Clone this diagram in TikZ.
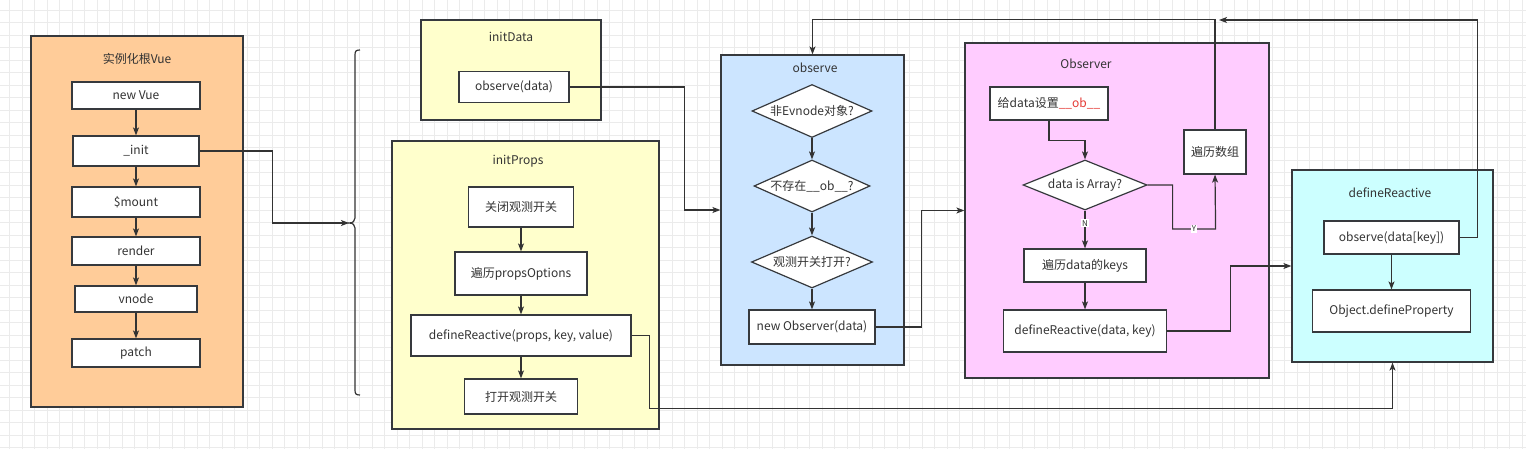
\documentclass[tikz,border=0pt]{standalone}
\usepackage{fontspec}
\setmainfont{Noto Sans CJK SC}
\usetikzlibrary{arrows.meta}
\usetikzlibrary{shapes}
\definecolor{lineGray}{HTML}{333333}
\definecolor{boxGray}{HTML}{36393D}
\definecolor{textGray}{HTML}{333333}
\definecolor{gridGray}{HTML}{EBEBEB}
\definecolor{vueOrange}{HTML}{FFCC99}
\definecolor{initYellow}{HTML}{FFFFCC}
\definecolor{observeBlue}{HTML}{CCE5FF}
\definecolor{observerPink}{HTML}{FFCCFF}
\definecolor{reactCyan}{HTML}{CCFFFF}
\definecolor{obRed}{HTML}{E53935}
\begin{document}
\begin{tikzpicture}
[x=1pt,y=-1pt,%
  lineDecorate/.style={draw=lineGray,line width=1.2pt,-{Stealth[length=8pt,width=6pt,inset=2pt]}},%
  wireDecorate/.style={draw=lineGray,line width=1.2pt},%
  groupDecorate/.style={shape=rectangle,draw=boxGray,line width=1.2pt,inner sep=0pt},%
  boxDecorate/.style={shape=rectangle,draw=boxGray,fill=white,line width=1.2pt,inner sep=2pt,text=textGray},%
  decisionDecorate/.style={shape=diamond,draw=boxGray,fill=white,line width=1.2pt,inner sep=0pt,aspect=2.3,text=textGray},%
  titleDecorate/.style={text=textGray},%
  edgeLabel/.style={fill=white,inner sep=1pt,text=textGray,font=\fontsize{8}{9}\selectfont}]
\fontsize{12}{14}\selectfont
%% canvas and grid
\path[use as bounding box] (0,0) rectangle (1526,449);
\fill[white] (0,0) rectangle (1526,449);
\begin{scope}
\clip (0,0) rectangle (1526,449);
\draw[gridGray,line width=0.8pt,shift={(9.5,10)}] (-12.5,-12.5) grid[step=12.5pt] (1530,450);
\end{scope}
%% groups
\node[groupDecorate,fill=vueOrange,minimum width=212pt,minimum height=371pt] (vueGroup) at (137,221.5) {};
\node[groupDecorate,fill=initYellow,minimum width=180pt,minimum height=100pt] (dataGroup) at (511,70) {};
\node[groupDecorate,fill=initYellow,minimum width=267pt,minimum height=288pt] (propsGroup) at (525.5,285) {};
\node[groupDecorate,fill=observeBlue,minimum width=183pt,minimum height=310pt] (observeGroup) at (812.5,210) {};
\node[groupDecorate,fill=observerPink,minimum width=304pt,minimum height=335pt] (observerGroup) at (1117,210.5) {};
\node[groupDecorate,fill=reactCyan,minimum width=201pt,minimum height=192pt] (reactGroup) at (1392.5,266) {};
%% group titles
\node[titleDecorate] (vueTitle) at (137,59) {实例化根Vue};
\node[titleDecorate] (dataTitle) at (511,37) {initData};
\node[titleDecorate] (propsTitle) at (518,161) {initProps};
\node[titleDecorate] (observeTitle) at (815,68) {observe};
\node[titleDecorate] (observerTitle) at (1086,64) {Observer};
\node[titleDecorate] (reactTitle) at (1390,193) {defineReactive};
%% root Vue steps
\foreach \nodename/\y/\w/\h/\txt in {
  newVue/95.5/128/27/new Vue, init/151/126/30/\_init,
  mount/202/128/30/\$mount, render/251/128/28/render,
  vnode/299/122/26/vnode, patch/353/128/28/patch}
{
  \node[boxDecorate,minimum width=\w pt,minimum height=\h pt] (\nodename) at (136,\y) {\txt};
}
\foreach \a/\b in {newVue/init, init/mount, mount/render, render/vnode, vnode/patch}
  \draw[lineDecorate] (\a) -- (\b);
%% brace
\coordinate (braceTip) at (349,223);
\draw[wireDecorate] (360,50) .. controls (356,50) and (355,51) .. (355,55) -- (355,218)
  .. controls (355,221) and (353,223) .. (braceTip)
  .. controls (353,223) and (355,225) .. (355,228) -- (355,390)
  .. controls (355,394) and (356,395) .. (360,395);
\draw[lineDecorate] (init.east) -- ++(73,0) |- (braceTip);
%% initData and initProps
\node[boxDecorate,minimum width=110pt,minimum height=31pt] (observeData) at (514,87) {observe(data)};
\node[boxDecorate,minimum width=105pt,minimum height=40pt] (closeSwitch) at (521,207) {关闭观测开关};
\node[boxDecorate,minimum width=132pt,minimum height=43pt] (loopProps) at (521,273.5) {遍历propsOptions};
\node[boxDecorate,minimum width=220pt,minimum height=41pt] (defineProps) at (521,335.5) {defineReactive(props, key, value)};
\node[boxDecorate,minimum width=113pt,minimum height=35pt] (openSwitch) at (521,396.5) {打开观测开关};
\foreach \a/\b in {closeSwitch/loopProps, loopProps/defineProps, defineProps/openSwitch}
  \draw[lineDecorate] (\a) -- (\b);
%% observe
\node[decisionDecorate,minimum width=120pt,minimum height=53pt] (isVnode) at (812,111) {非Evnode对象?};
\node[decisionDecorate,minimum width=116pt,minimum height=52pt] (hasOb) at (812,186) {不存在\_\_ob\_\_?};
\node[decisionDecorate,minimum width=121pt,minimum height=52pt] (switchOn) at (812,262) {观测开关打开?};
\node[boxDecorate,minimum width=126pt,minimum height=34pt] (newObserver) at (812,327) {new Observer(data)};
\foreach \a/\b in {isVnode/hasOb, hasOb/switchOn, switchOn/newObserver}
  \draw[lineDecorate] (\a) -- (\b);
%% Observer
\node[boxDecorate,minimum width=118pt,minimum height=33pt] (setOb) at (1049,103.5) {给data设置\textcolor{obRed}{\_\_ob\_\_}};
\node[decisionDecorate,minimum width=124pt,minimum height=50pt] (isArray) at (1085,185) {data is Array?};
\node[boxDecorate,minimum width=62pt,minimum height=44pt] (loopArray) at (1215,152) {遍历数组};
\node[boxDecorate,minimum width=122pt,minimum height=33pt] (loopKeys) at (1085,265.5) {遍历data的keys};
\node[boxDecorate,minimum width=163pt,minimum height=42pt] (defineData) at (1085,331) {defineReactive(data, key)};
\draw[lineDecorate] (setOb.south) -- ++(0,20) -| (isArray.north);
\draw[lineDecorate] (isArray.south) -- node[edgeLabel,pos=0.33] {N} (loopKeys.north);
\draw[lineDecorate] (isArray.east) -- ++(25,0) -- ++(0,44) -- node[edgeLabel] {Y} ++(43,0) -- (loopArray.south);
\draw[lineDecorate] (loopKeys) -- (defineData);
%% defineReactive
\node[boxDecorate,minimum width=135pt,minimum height=33pt] (observeKey) at (1391.5,237.5) {observe(data[key])};
\node[boxDecorate,minimum width=158pt,minimum height=42pt] (defineProp) at (1391.5,311) {Object.defineProperty};
\draw[lineDecorate] (observeKey) -- (defineProp);
%% connect the groups
\coordinate (topJoin) at (1219,20);
\draw[lineDecorate] (observeData.east) -- ++(115,0) |- (observeGroup.west);
\draw[lineDecorate] (newObserver.east) -- ++(46,0) |- (observerGroup.west);
\draw[lineDecorate] (defineData.east) -- ++(63,0) |- (reactGroup.west);
\draw[lineDecorate] (loopArray.north) |- ([yshift=35pt]observeGroup.north) -- (observeGroup.north);
\draw[lineDecorate] (observeKey.east) -- ++(18,0) |- (topJoin);
\draw[lineDecorate] (defineProps.east) -- ++(18,0) |- ([yshift=-46pt]reactGroup.south) -- (reactGroup.south);
\end{tikzpicture}
\end{document}
